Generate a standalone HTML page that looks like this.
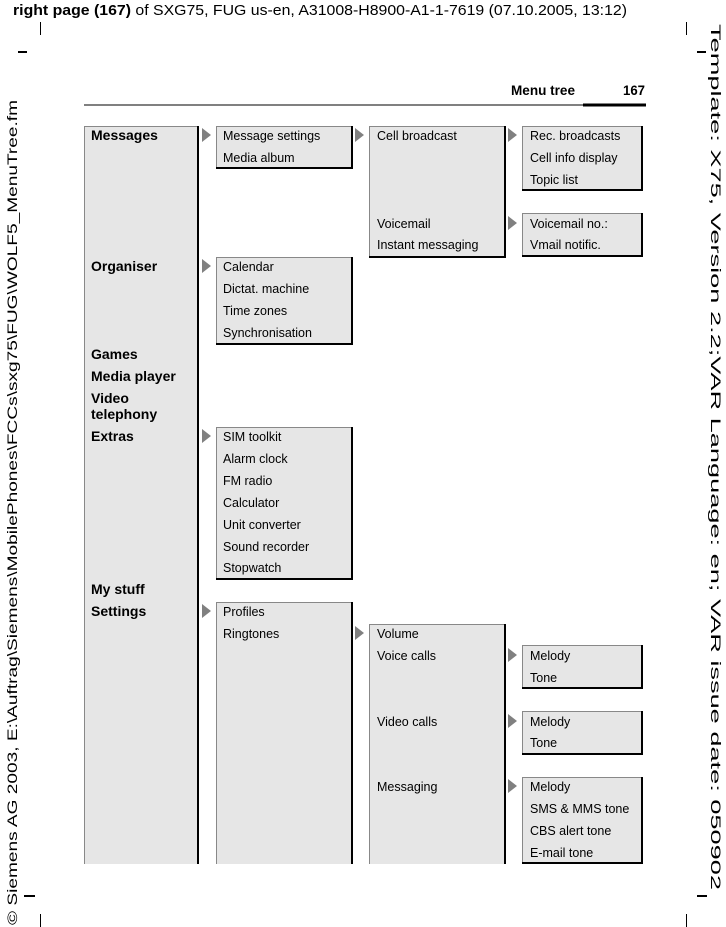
<!DOCTYPE html>
<html><head><meta charset="utf-8"><style>
html,body{margin:0;padding:0;background:#fff;}
svg{display:block;}
text{font-family:"Liberation Sans",Arial,sans-serif;fill:#000;}
.b{font-weight:bold;font-size:14px;}
.n{font-size:12.5px;}
</style></head><body>
<svg width="726" height="927" viewBox="0 0 726 927" xmlns="http://www.w3.org/2000/svg">
<text x="13" y="15" font-size="15" textLength="614" lengthAdjust="spacingAndGlyphs"><tspan font-weight="bold">right page (167)</tspan> of SXG75, FUG us-en, A31008-H8900-A1-1-7619 (07.10.2005, 13:12)</text>
<g stroke="#000" stroke-width="1">
<line x1="40.5" y1="22" x2="40.5" y2="35"/><line x1="686.5" y1="22" x2="686.5" y2="35"/>
<line x1="40.5" y1="914" x2="40.5" y2="927"/><line x1="686.5" y1="914" x2="686.5" y2="927"/>
</g>
<g stroke="#000" stroke-width="2">
<line x1="18" y1="52" x2="27" y2="52"/><line x1="697" y1="52" x2="706" y2="52"/>
<line x1="24" y1="896" x2="35" y2="896"/><line x1="697" y1="896" x2="707" y2="896"/>
</g>
<text transform="translate(17,925) rotate(-90)" font-size="14" textLength="825" lengthAdjust="spacingAndGlyphs">© Siemens AG 2003, E:\Auftrag\Siemens\MobilePhones\FCCs\sxg75\FUG\WOLF5_MenuTree.fm</text>
<text transform="translate(711,24) rotate(90)" font-size="14" textLength="866" lengthAdjust="spacingAndGlyphs">Template: X75, Version 2.2;VAR Language: en; VAR issue date: 050902</text>
<text x="511" y="95" font-weight="bold" font-size="14" textLength="64" lengthAdjust="spacingAndGlyphs">Menu tree</text>
<text x="623" y="95" font-weight="bold" font-size="14" textLength="22" lengthAdjust="spacingAndGlyphs">167</text>
<line x1="84" y1="105" x2="646" y2="105" stroke="#000" stroke-width="1"/>
<line x1="583" y1="105" x2="646" y2="105" stroke="#000" stroke-width="3"/>

<g id="boxes">
<rect x="84" y="126" width="114" height="738" fill="#e6e6e6"/>
<path d="M84.5 864 V126.5 H198" stroke="#888" fill="none"/>
<line x1="198" y1="126" x2="198" y2="864" stroke="#000" stroke-width="2"/>

<rect x="216" y="126" width="136" height="42" fill="#e6e6e6"/>
<path d="M216.5 168 V126.5 H352" stroke="#888" fill="none"/>
<path d="M352 126 V168 H216" stroke="#000" stroke-width="2" fill="none"/>

<rect x="216" y="257" width="136" height="87" fill="#e6e6e6"/>
<path d="M216.5 344 V257.5 H352" stroke="#888" fill="none"/>
<path d="M352 257 V344 H216" stroke="#000" stroke-width="2" fill="none"/>

<rect x="216" y="427" width="136" height="152" fill="#e6e6e6"/>
<path d="M216.5 579 V427.5 H352" stroke="#888" fill="none"/>
<path d="M352 427 V579 H216" stroke="#000" stroke-width="2" fill="none"/>

<rect x="216" y="602" width="136" height="262" fill="#e6e6e6"/>
<path d="M216.5 864 V602.5 H352" stroke="#888" fill="none"/>
<line x1="352" y1="602" x2="352" y2="864" stroke="#000" stroke-width="2"/>

<rect x="369" y="126" width="136" height="131" fill="#e6e6e6"/>
<path d="M369.5 257 V126.5 H505" stroke="#888" fill="none"/>
<path d="M505 126 V257 H369" stroke="#000" stroke-width="2" fill="none"/>

<rect x="369" y="624" width="136" height="240" fill="#e6e6e6"/>
<path d="M369.5 864 V624.5 H505" stroke="#888" fill="none"/>
<line x1="505" y1="624" x2="505" y2="864" stroke="#000" stroke-width="2"/>

<rect x="522" y="126" width="120" height="64" fill="#e6e6e6"/>
<path d="M522.5 190 V126.5 H642" stroke="#888" fill="none"/>
<path d="M642 126 V190 H522" stroke="#000" stroke-width="2" fill="none"/>

<rect x="522" y="213" width="120" height="43" fill="#e6e6e6"/>
<path d="M522.5 256 V213.5 H642" stroke="#888" fill="none"/>
<path d="M642 213 V256 H522" stroke="#000" stroke-width="2" fill="none"/>

<rect x="522" y="645" width="120" height="43" fill="#e6e6e6"/>
<path d="M522.5 688 V645.5 H642" stroke="#888" fill="none"/>
<path d="M642 645 V688 H522" stroke="#000" stroke-width="2" fill="none"/>

<rect x="522" y="711" width="120" height="43" fill="#e6e6e6"/>
<path d="M522.5 754 V711.5 H642" stroke="#888" fill="none"/>
<path d="M642 711 V754 H522" stroke="#000" stroke-width="2" fill="none"/>

<rect x="522" y="777" width="120" height="86" fill="#e6e6e6"/>
<path d="M522.5 863 V777.5 H642" stroke="#888" fill="none"/>
<path d="M642 777 V863 H522" stroke="#000" stroke-width="2" fill="none"/>
</g>

<g fill="#808080">
<polygon points="202,128 202,142 211,135"/>
<polygon points="202,259 202,273 211,266"/>
<polygon points="202,429 202,443 211,436"/>
<polygon points="202,604 202,618 211,611"/>
<polygon points="355,128 355,142 364,135"/>
<polygon points="355,626 355,640 364,633"/>
<polygon points="508,128 508,142 517,135"/>
<polygon points="508,216 508,230 517,223"/>
<polygon points="508,648 508,662 517,655"/>
<polygon points="508,714 508,728 517,721"/>
<polygon points="508,779 508,793 517,786"/>
</g>

<g class="b">
<text x="91" y="140">Messages</text>
<text x="91" y="271">Organiser</text>
<text x="91" y="359">Games</text>
<text x="91" y="381">Media player</text>
<text x="91" y="403">Video</text>
<text x="91" y="419">telephony</text>
<text x="91" y="441">Extras</text>
<text x="91" y="594">My stuff</text>
<text x="91" y="616">Settings</text>
</g>
<g class="n">
<text x="223" y="140">Message settings</text>
<text x="223" y="162">Media album</text>
<text x="223" y="271">Calendar</text>
<text x="223" y="293">Dictat. machine</text>
<text x="223" y="315">Time zones</text>
<text x="223" y="337">Synchronisation</text>
<text x="223" y="441">SIM toolkit</text>
<text x="223" y="463">Alarm clock</text>
<text x="223" y="485">FM radio</text>
<text x="223" y="507">Calculator</text>
<text x="223" y="529">Unit converter</text>
<text x="223" y="551">Sound recorder</text>
<text x="223" y="572">Stopwatch</text>
<text x="223" y="616">Profiles</text>
<text x="223" y="638">Ringtones</text>
<text x="377" y="140">Cell broadcast</text>
<text x="377" y="228">Voicemail</text>
<text x="377" y="249">Instant messaging</text>
<text x="377" y="638">Volume</text>
<text x="377" y="660">Voice calls</text>
<text x="377" y="726">Video calls</text>
<text x="377" y="791">Messaging</text>
<text x="530" y="140">Rec. broadcasts</text>
<text x="530" y="162">Cell info display</text>
<text x="530" y="184">Topic list</text>
<text x="530" y="228">Voicemail no.:</text>
<text x="530" y="249">Vmail notific.</text>
<text x="530" y="660">Melody</text>
<text x="530" y="682">Tone</text>
<text x="530" y="726">Melody</text>
<text x="530" y="747">Tone</text>
<text x="530" y="791">Melody</text>
<text x="530" y="813">SMS &amp; MMS tone</text>
<text x="530" y="835">CBS alert tone</text>
<text x="530" y="857">E-mail tone</text>
</g>
</svg>
</body></html>
